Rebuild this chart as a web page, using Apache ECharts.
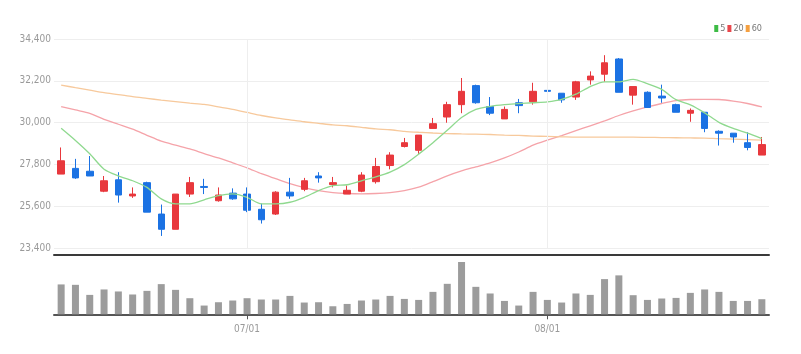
<!DOCTYPE html>
<html>
<head>
<meta charset="utf-8">
<script src="https://cdn.jsdelivr.net/npm/echarts@6/dist/echarts.min.js"></script>
<style>
  html, body { margin: 0; padding: 0; background: #fff; }
  #chart { width: 801px; height: 354px; }
</style>
</head>
<body>
<div id="chart"></div>
<script>
// trading days, 2022-06-14 .. 2022-08-23
const dates = [
  '06/14', '06/15', '06/16', '06/17', '06/20', '06/21', '06/22', '06/23', '06/24', '06/27', '06/28', '06/29', '06/30',
  '07/01', '07/04', '07/05', '07/06', '07/07', '07/08', '07/11', '07/12', '07/13', '07/14', '07/15',
  '07/18', '07/19', '07/20', '07/21', '07/22', '07/25', '07/26', '07/27', '07/28', '07/29',
  '08/01', '08/02', '08/03', '08/04', '08/05', '08/08', '08/09', '08/10', '08/11', '08/12',
  '08/16', '08/17', '08/18', '08/19', '08/22', '08/23'
]
const tickLabels = ['07/01', '08/01']

const opens = [
  27300, 27600, 27450, 26400, 27000, 26150, 26850, 25200, 24400, 26250,
  26650, 25900, 26300, 26250, 25450, 25200, 26350, 26500, 27200, 26750,
  26250, 26400, 26900, 27750, 28750, 28550, 29700, 30300, 30950, 31950,
  30850, 30200, 31050, 31100, 31700, 31550, 31350, 32250, 32550, 33350,
  31450, 31600, 31400, 30950, 30500, 30550, 29550, 29450, 28950, 28300
]
const closes = [
  28000, 27100, 27200, 26950, 26200, 26250, 25300, 24400, 26250, 26850,
  26600, 26200, 26000, 25400, 24900, 26350, 26150, 26950, 27100, 26850,
  26450, 27250, 27700, 28300, 28950, 29350, 29950, 30950, 31650, 31050,
  30500, 30700, 30900, 31650, 31650, 31200, 32150, 32450, 33150, 31600,
  31900, 30800, 31300, 30550, 30650, 29700, 29450, 29250, 28700, 28850
]
const lows = [
  27300, 27050, 27200, 26350, 25800, 26050, 25300, 24050, 24400, 26100,
  26250, 25850, 25950, 25300, 24700, 25150, 26000, 26400, 26850, 26600,
  26250, 26350, 26800, 27550, 28700, 28350, 29700, 30000, 30500, 31000,
  30400, 30200, 30500, 30950, 31100, 31050, 31200, 32000, 32150, 31600,
  30950, 30800, 31050, 30550, 30050, 29500, 28800, 28950, 28550, 28300
]
const highs = [
  28700, 28100, 28250, 27200, 27400, 26600, 26900, 25700, 26250, 27150,
  27050, 26600, 26550, 26600, 25750, 26400, 27100, 27100, 27400, 27150,
  26700, 27400, 28150, 28450, 29200, 29350, 30250, 31100, 32350, 32000,
  31350, 30850, 31250, 32100, 32000, 31550, 32200, 32700, 33550, 33400,
  31900, 31650, 32000, 31000, 30750, 30550, 29600, 29450, 29500, 29250
]

const ma5 = [
  29710, 29070, 28370, 27560, 27210, 26950, 26600, 26000, 25740, 25740,
  25950, 26170, 26260, 26080, 25740, 25740, 25820, 26080, 26430, 26690,
  26740, 26950, 27150, 27400, 27800, 28350, 28950, 29600, 30270, 30700,
  30860, 30950, 31000, 31050, 31100, 31230, 31500, 31900, 32150, 32150,
  32280, 32050, 31750, 31210, 30940, 30520, 30020, 29700, 29450, 29160
]
const ma20 = [
  30850, 30670, 30490, 30180, 29920, 29660, 29340, 29030, 28820, 28620,
  28380, 28150, 27890, 27630, 27320, 27060, 26800, 26590, 26430, 26330,
  26280, 26260, 26280, 26330, 26430, 26610, 26900, 27210, 27470, 27680,
  27890, 28150, 28460, 28820, 29080, 29320, 29580, 29840, 30100, 30380,
  30620, 30830, 31010, 31160, 31220, 31230, 31220, 31140, 31010, 30830
]
const ma60 = [
  31980, 31840, 31710, 31580, 31480, 31370, 31280, 31190, 31110, 31030,
  30960, 30830, 30700, 30540, 30380, 30250, 30150, 30050, 29970, 29890,
  29840, 29760, 29680, 29630, 29550, 29500, 29460, 29430, 29410, 29400,
  29380, 29350, 29330, 29300, 29280, 29260, 29240, 29240, 29240, 29240,
  29240, 29230, 29220, 29210, 29200, 29190, 29160, 29140, 29110, 29080
]

const volumes = [
  297000, 293000, 193000, 247000, 227000, 197000, 233000, 300000, 243000, 160000,
  87000, 120000, 137000, 160000, 147000, 147000, 183000, 117000, 120000, 80000,
  103000, 137000, 147000, 183000, 153000, 143000, 223000, 303000, 520000, 273000,
  207000, 133000, 87000, 223000, 143000, 117000, 207000, 193000, 350000, 387000,
  190000, 143000, 157000, 163000, 213000, 247000, 223000, 133000, 133000, 150000
]

const upColor = '#e8383d'
const downColor = '#1b72e3'
const labelFont = "'DejaVu Sans Condensed', 'Liberation Sans Narrow', sans-serif"

const candles = dates.map((d, i) => [opens[i], closes[i], lows[i], highs[i]])
const showTick = (idx, val) => tickLabels.indexOf(val) >= 0

const option = {
  animation: false,
  legend: {
    right: 34,
    top: 19,
    icon: 'rect',
    itemWidth: 4,
    itemHeight: 7,
    itemGap: 2,
    textStyle: { fontSize: 9, color: '#777', fontFamily: labelFont, padding: [0, 0, 0, -3] },
    data: ['5', '20', '60']
  },
  grid: [
    { left: 54, right: 32, top: 39, height: 209.3 },
    { left: 54, right: 32, top: 262, height: 52.3 }
  ],
  xAxis: [
    {
      type: 'category',
      data: dates,
      gridIndex: 0,
      offset: 6,
      axisLine: { show: true, lineStyle: { color: '#3a3a3a', width: 2 } },
      axisTick: { show: false },
      axisLabel: { show: false },
      splitLine: { show: false }
    },
    {
      type: 'category',
      data: dates,
      gridIndex: 1,
      axisLine: { show: true, lineStyle: { color: '#555', width: 2 } },
      axisTick: { show: true, alignWithLabel: true, interval: showTick, length: 5, lineStyle: { color: '#555' } },
      axisLabel: { interval: showTick, color: '#999', fontSize: 10, fontFamily: labelFont, margin: 10 },
      splitLine: { show: false }
    }
  ],
  yAxis: [
    {
      type: 'value',
      gridIndex: 0,
      min: 23400,
      max: 34400,
      interval: 2200,
      axisLine: { show: false },
      axisTick: { show: false },
      axisLabel: {
        color: '#999',
        fontSize: 10,
        fontFamily: labelFont,
        margin: 3,
        formatter: v => v.toLocaleString('en-US')
      },
      splitLine: { lineStyle: { color: '#eeeeee' } }
    },
    {
      type: 'value',
      gridIndex: 1,
      min: 0,
      max: 'dataMax',
      show: false,
      splitLine: { show: false }
    }
  ],
  series: [
    {
      name: 'candle',
      type: 'candlestick',
      data: candles,
      xAxisIndex: 0,
      yAxisIndex: 0,
      barWidth: 7,
      itemStyle: {
        color: upColor,
        color0: downColor,
        borderColor: upColor,
        borderColor0: downColor,
        borderWidth: 1
      },
      markLine: {
        silent: true,
        symbol: 'none',
        label: { show: false },
        lineStyle: { color: '#eeeeee', type: 'solid', width: 1 },
        data: tickLabels.map(t => ({ xAxis: t }))
      },
      z: 3
    },
    {
      name: '5',
      type: 'line',
      data: ma5,
      smooth: 0.25,
      showSymbol: false,
      color: '#3dbb45',
      lineStyle: { color: '#8fd98f', width: 1.3 },
      z: 4
    },
    {
      name: '20',
      type: 'line',
      data: ma20,
      smooth: 0.25,
      showSymbol: false,
      color: '#e9474c',
      lineStyle: { color: '#f5a3a9', width: 1.3 },
      z: 2
    },
    {
      name: '60',
      type: 'line',
      data: ma60,
      smooth: 0.25,
      showSymbol: false,
      color: '#f5a040',
      lineStyle: { color: '#f7c99c', width: 1.3 },
      z: 2
    },
    {
      name: 'volume',
      type: 'bar',
      data: volumes,
      xAxisIndex: 1,
      yAxisIndex: 1,
      barWidth: 7,
      itemStyle: { color: '#9c9c9c' }
    }
  ]
}

const chart = echarts.init(document.getElementById('chart'))
chart.setOption(option)
</script>
</body>
</html>
